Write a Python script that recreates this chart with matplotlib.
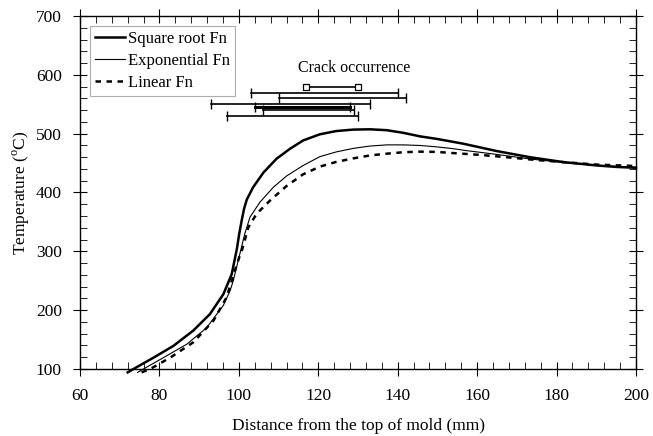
import matplotlib
matplotlib.use("Agg")
import matplotlib.pyplot as plt
from matplotlib.ticker import MultipleLocator

plt.rcParams['font.family'] = ['Liberation Serif', 'DejaVu Serif']
plt.rcParams['mathtext.fontset'] = 'custom'
plt.rcParams['mathtext.rm'] = 'Liberation Serif'

# Square root Fn
sq_x = [72.0, 73.4, 78.5, 83.5, 88.5, 92.7, 96.1, 98.2, 99.5, 100.1, 100.7, 101.3, 102.0,
        103.6, 106.2, 109.5, 112.9, 116.2, 120.4, 124.5, 128.8, 133.0, 137.2, 141.4,
        145.6, 150.0, 156.5, 164.9, 173.3, 181.7, 190.1, 195.0, 200.0]
sq_y = [94, 99.5, 119, 139, 165, 193, 227, 261, 304, 330, 352, 372, 388,
        409, 434, 457.5, 474.5, 488.6, 499, 504.5, 507, 507.5, 506, 501.5,
        495.5, 491, 483, 470.5, 460, 451.7, 446, 443.5, 442]

# Exponential Fn
ex_x = [74.5, 75.9, 81.0, 86.9, 91.9, 96.1, 97.8, 98.6, 99.9, 101.5, 102.8, 105.3,
        108.7, 112.0, 116.2, 120.4, 124.5, 128.8, 133.0, 137.2, 141.4, 145.6, 150.0,
        154.0, 157.0, 164.9, 173.3, 181.7, 190.0, 200.0]
ex_y = [94, 99.5, 119, 142, 170, 208, 233, 250, 286, 330, 358, 383.5,
        409, 428, 446, 461, 469, 475, 479, 481, 481, 480, 477.5,
        474.5, 471.5, 464.8, 457, 451, 446, 443]

# Linear Fn
li_x = [75.5, 77.6, 82.7, 88.5, 93.6, 96.9, 99.0, 100.1, 100.7, 102.4, 104.5, 107.8,
        112.0, 116.2, 120.4, 124.5, 128.8, 133.0, 137.2, 141.4, 145.6, 150.0, 154.0,
        160.7, 165.8, 174.2, 182.0, 190.0, 200.0]
li_y = [94, 99.5, 119, 145, 182, 221.5, 267, 290, 300, 341, 364, 386,
        411, 431, 444, 452, 458, 463, 466, 468.5, 469.5, 469, 467,
        464, 461, 455.7, 451.5, 447.5, 445]

# Crack occurrence ranges
crack_start = [117, 103, 110, 93, 104, 106, 97]
crack_end = [130, 140, 142, 133, 128, 129, 130]
crack_temp = [580, 570, 560, 550, 546, 540, 530]

fig = plt.figure(figsize=(6.53, 4.36), dpi=100)
ax = fig.add_axes([0.1225, 0.154, 0.8515, 0.809])

ax.plot(sq_x, sq_y, color='black', lw=1.8, label='Square root Fn', clip_on=False)
ax.plot(ex_x, ex_y, color='black', lw=0.8, label='Exponential Fn', clip_on=False)
ax.plot(li_x, li_y, color='black', lw=1.8, ls=(0, (2.2, 2.2)), label='Linear Fn', clip_on=False)

for i, (s, e, t) in enumerate(zip(crack_start, crack_end, crack_temp)):
    if i == 0:
        ax.plot([s, e], [t, t], color='black', lw=1.2, marker='s', ms=4.5,
                mfc='white', mec='black', mew=0.9)
    elif i == 4:
        ax.plot([s, e], [t, t], color='black', lw=2.2, marker='|', ms=6.5, mew=1.0)
    else:
        ax.plot([s, e], [t, t], color='black', lw=1.2, marker='|', ms=6.5, mew=1.0)

ax.text(129, 611, 'Crack occurrence', ha='center', va='center', fontsize=11.5)

ax.set_xlim(60, 200)
ax.set_ylim(100, 700)
ax.xaxis.set_major_locator(MultipleLocator(20))
ax.xaxis.set_minor_locator(MultipleLocator(4))
ax.yaxis.set_major_locator(MultipleLocator(100))
ax.yaxis.set_minor_locator(MultipleLocator(20))
ax.tick_params(which='major', direction='inout', length=10, width=0.8,
               top=True, right=True, labelsize=12.5)
ax.tick_params(which='minor', direction='in', length=5, width=0.6, top=True, right=True)
ax.tick_params(axis='x', which='major', pad=9)
ax.tick_params(axis='y', which='major', pad=8)
for sp in ax.spines.values():
    sp.set_linewidth(1.0)

ax.set_xlabel('Distance from the top of mold (mm)', fontsize=12.5, labelpad=10)
ax.set_ylabel('Temperature ($^{\\rm o}$C)', fontsize=12.5, labelpad=3)

leg = ax.legend(loc='upper left', bbox_to_anchor=(0.018, 0.972), fontsize=12,
                frameon=True, fancybox=False, edgecolor='#999999',
                handlelength=1.8, handletextpad=0.2, borderpad=0.3,
                labelspacing=0.35, borderaxespad=0.0)
leg.get_frame().set_linewidth(0.8)

fig.savefig('out.png', dpi=100)
